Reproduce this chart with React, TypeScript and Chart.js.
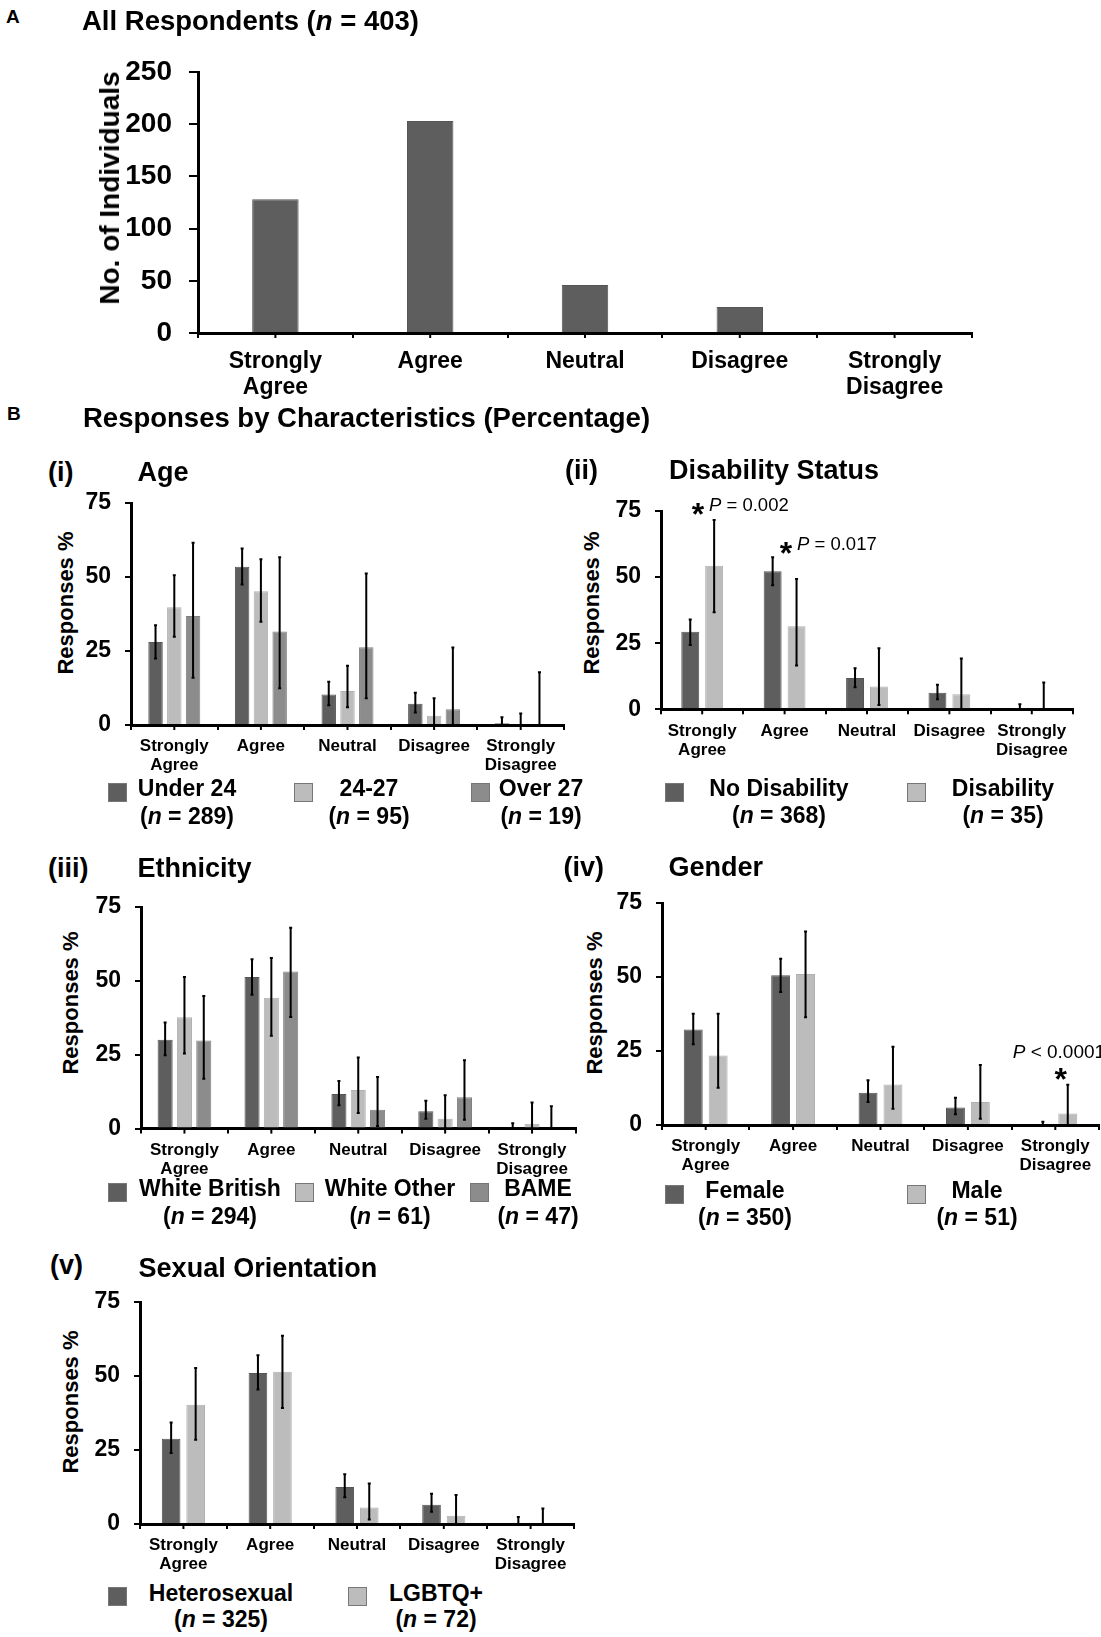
import React, { useEffect, useRef } from 'react';
import { Chart, registerables } from 'chart.js';
Chart.register(...registerables);

const FONT = "'Liberation Sans', Arial, Helvetica, sans-serif";
const DARK = '#5e5e5e';
const LIGHT = '#bcbcbc';
const MID = '#8c8c8c';

// ---------------- data ----------------
const responseLabels: (string | string[])[] = [['Strongly', 'Agree'], 'Agree', 'Neutral', 'Disagree', ['Strongly', 'Disagree']];
const allCounts = [128, 203, 46, 25, 1];
const allTicks = { max: 250, step: 50 };
const pctTicks = { max: 75, step: 25 };

// (i) Age
const ageGroups = ['Under 24', '24-27', 'Over 27'];
const ageN = [289, 95, 19];
const ageUnder24 = [28.0, 53.5, 10.3, 7.2, 0.6];
const ageUnder24Lo = [22.5, 47.5, 6.7, 4.2, 0];
const ageUnder24Hi = [33.7, 59.6, 14.6, 10.9, 2.6];
const age2427 = [39.8, 45.2, 11.5, 3.1, 0];
const age2427Lo = [29.8, 34.9, 6.0, 0, 0];
const age2427Hi = [50.6, 56.0, 20.0, 9.0, 3.9];
const ageOver27 = [36.8, 31.6, 26.3, 5.3, 0];
const ageOver27Lo = [16.0, 12.4, 9.0, 0, 0];
const ageOver27Hi = [61.6, 56.7, 51.2, 26.2, 17.8];

// (ii) Disability
const disGroups = ['No Disability', 'Disability'];
const disN = [368, 35];
const noDisability = [29.3, 52.2, 11.8, 6.3, 0.3];
const noDisabilityLo = [24.3, 46.9, 8.3, 3.8, 0];
const noDisabilityHi = [34.0, 57.5, 15.5, 9.3, 1.9];
const disability = [54.3, 31.4, 8.6, 5.7, 0];
const disabilityLo = [36.7, 16.6, 1.6, 0, 0];
const disabilityHi = [71.6, 49.3, 23.1, 19.2, 10.1];

// (iii) Ethnicity
const ethGroups = ['White British', 'White Other', 'BAME'];
const ethN = [294, 61, 47];
const whiteBritish = [30.1, 51.3, 11.7, 5.9, 0.3];
const whiteBritishLo = [24.8, 45.3, 7.9, 3.3, 0];
const whiteBritishHi = [35.9, 57.3, 16.1, 9.4, 1.8];
const whiteOther = [37.7, 44.3, 13.1, 3.3, 1.6];
const whiteOtherLo = [25.4, 31.4, 5.3, 0, 0];
const whiteOtherHi = [51.3, 57.7, 24.1, 11.3, 8.8];
const bame = [29.8, 53.2, 6.4, 10.6, 0];
const bameLo = [16.9, 37.8, 0.9, 3.0, 0];
const bameHi = [44.9, 68.0, 17.5, 23.1, 7.6];

// (iv) Gender
const genderGroups = ['Female', 'Male'];
const genderN = [350, 51];
const female = [32.3, 50.6, 10.9, 5.9, 0.3];
const femaleLo = [27.3, 44.9, 7.8, 3.6, 0];
const femaleHi = [37.6, 56.2, 15.1, 9.2, 1.1];
const male = [23.5, 51.0, 13.7, 7.8, 3.9];
const maleLo = [12.6, 36.4, 5.5, 2.1, 0];
const maleHi = [37.6, 65.4, 26.4, 20.3, 13.6];

// (v) Sexual orientation
const soGroups = ['Heterosexual', 'LGBTQ+'];
const soN = [325, 72];
const hetero = [28.8, 51.0, 12.5, 6.5, 0.3];
const heteroLo = [24.0, 45.4, 9.0, 4.1, 0];
const heteroHi = [34.3, 57.0, 16.8, 10.2, 2.4];
const lgbtq = [40.3, 51.4, 5.6, 2.8, 0];
const lgbtqLo = [28.5, 39.2, 1.5, 0, 0];
const lgbtqHi = [52.7, 63.6, 13.7, 9.8, 5.2];

// ---------------- plugins ----------------
const errorBarPlugin = {
  id: 'errorBars',
  afterDatasetsDraw(chart: any) {
    const ctx = chart.ctx;
    const y = chart.scales.y;
    chart.data.datasets.forEach((ds: any, i: number) => {
      if (!ds.errLo) return;
      const meta = chart.getDatasetMeta(i);
      meta.data.forEach((bar: any, j: number) => {
        const x = bar.x;
        const yl = y.getPixelForValue(ds.errLo[j]);
        const yh = y.getPixelForValue(ds.errHi[j]);
        ctx.save();
        ctx.strokeStyle = '#000';
        ctx.lineWidth = 2;
        ctx.beginPath();
        ctx.moveTo(x, yl);
        ctx.lineTo(x, yh);
        ctx.moveTo(x - 1.5, yh);
        ctx.lineTo(x + 1.5, yh);
        ctx.moveTo(x - 1.5, yl);
        ctx.lineTo(x + 1.5, yl);
        ctx.stroke();
        ctx.restore();
      });
    });
  },
};

const centerTicksPlugin = {
  id: 'centerTicks',
  afterDraw(chart: any, _args: any, opts: any) {
    const xs = chart.scales.x;
    const ctx = chart.ctx;
    const len = (opts && opts.length) || 5;
    ctx.save();
    ctx.strokeStyle = '#000';
    ctx.lineWidth = 2;
    for (let i = 0; i < chart.data.labels.length; i++) {
      const px = xs.getPixelForValue(i);
      ctx.beginPath();
      ctx.moveTo(px, xs.top);
      ctx.lineTo(px, xs.top + len);
      ctx.stroke();
    }
    ctx.restore();
  },
};

// ---------------- chart panel ----------------
type Series = { data: number[]; lo?: number[]; hi?: number[]; color: string; border: string };
type PanelCfg = {
  L: number; T: number; R: number; B: number;
  yW: number; xH: number; padTop: number; padRight: number;
  yMax: number; yStep: number;
  yFont: number; xFont: number; xLine: number;
  yTickLen: number; yTickPad: number; xTickLen: number; xTickPad: number;
  catPct: number; barPct: number; axisW: number;
  labels: (string | string[])[];
  series: Series[];
};

function BarPanel({ cfg }: { cfg: PanelCfg }) {
  const ref = useRef<HTMLCanvasElement>(null);
  const cl = cfg.L - cfg.yW;
  const ct = cfg.T - cfg.padTop;
  const w = Math.ceil(cfg.R + cfg.padRight - cl);
  const h = Math.ceil(cfg.B + cfg.xH - ct);
  const xAxisH = h - (cfg.B - ct);
  const padR = w - (cfg.R - cl);

  useEffect(() => {
    if (!ref.current) return;
    const chart = new Chart(ref.current, {
      type: 'bar',
      data: {
        labels: cfg.labels as any,
        datasets: cfg.series.map((s) => ({
          data: s.data,
          backgroundColor: s.color,
          borderColor: s.border,
          borderWidth: 1,
          barPercentage: cfg.barPct,
          categoryPercentage: cfg.catPct,
          errLo: s.lo,
          errHi: s.hi,
        })) as any,
      },
      options: {
        responsive: false,
        animation: false,
        events: [],
        layout: { padding: { left: 0, top: cfg.padTop, right: padR, bottom: 0 } },
        plugins: {
          legend: { display: false },
          tooltip: { enabled: false },
          centerTicks: { length: cfg.xTickLen },
        } as any,
        scales: {
          x: {
            type: 'category',
            offset: true,
            z: 1,
            border: { display: true, color: '#000', width: cfg.axisW },
            grid: {
              display: true,
              offset: true,
              drawOnChartArea: false,
              drawTicks: true,
              tickLength: cfg.xTickLen,
              color: '#000',
              lineWidth: 2,
            },
            ticks: {
              color: '#000',
              font: { family: FONT, size: cfg.xFont, weight: 'bold', lineHeight: cfg.xLine },
              padding: cfg.xTickPad,
              maxRotation: 0,
              minRotation: 0,
              autoSkip: false,
            },
            afterFit: (s: any) => {
              s.height = xAxisH;
            },
          },
          y: {
            type: 'linear',
            min: 0,
            max: cfg.yMax,
            z: 1,
            border: { display: true, color: '#000', width: cfg.axisW },
            grid: {
              display: true,
              drawOnChartArea: false,
              drawTicks: true,
              tickLength: cfg.yTickLen,
              color: '#000',
              lineWidth: 2,
            },
            ticks: {
              stepSize: cfg.yStep,
              color: '#000',
              font: { family: FONT, size: cfg.yFont, weight: 'bold' },
              padding: cfg.yTickPad,
            },
            afterFit: (s: any) => {
              s.width = cfg.yW;
            },
          },
        } as any,
      },
      plugins: [errorBarPlugin, centerTicksPlugin],
    });
    return () => chart.destroy();
  }, []);

  return (
    <canvas
      ref={ref}
      width={w}
      height={h}
      style={{ position: 'absolute', left: cl, top: ct, width: w, height: h }}
    />
  );
}

// ---------------- text helpers ----------------
function Txt({ x, cy, fs, bold = true, center = false, children }: any) {
  return (
    <div
      style={{
        position: 'absolute',
        left: x,
        top: cy - fs * 0.5,
        fontSize: fs,
        lineHeight: 1,
        fontWeight: bold ? 'bold' : 'normal',
        whiteSpace: 'nowrap',
        transform: center ? 'translateX(-50%)' : undefined,
      }}
    >
      {children}
    </div>
  );
}

function VTxt({ cx, cy, fs, children }: any) {
  return (
    <div
      style={{
        position: 'absolute',
        left: cx,
        top: cy,
        fontSize: fs,
        lineHeight: 1,
        fontWeight: 'bold',
        whiteSpace: 'nowrap',
        transform: 'translate(-50%, -50%) rotate(-90deg)',
      }}
    >
      {children}
    </div>
  );
}

function Star({ cx, cy }: { cx: number; cy: number }) {
  const fs = 32;
  return (
    <div
      style={{
        position: 'absolute',
        left: cx,
        top: cy - fs * 0.27,
        fontSize: fs,
        lineHeight: 1,
        fontWeight: 'bold',
        transform: 'translateX(-50%)',
      }}
    >
      *
    </div>
  );
}

type LegendItem = { color: string; sqX: number; cx: number; name: string; n: number };
function Legend({ items, sqY, y1, y2 }: { items: LegendItem[]; sqY: number; y1: number; y2: number }) {
  return (
    <>
      {items.map((it, i) => (
        <React.Fragment key={i}>
          <div
            style={{
              position: 'absolute',
              left: it.sqX,
              top: sqY,
              width: 19,
              height: 19,
              boxSizing: 'border-box',
              background: it.color,
              border: '1px solid #777',
            }}
          />
          <Txt x={it.cx} cy={y1} fs={23} center>
            {it.name}
          </Txt>
          <Txt x={it.cx} cy={y2} fs={23} center>
            (<i>n</i> = {it.n})
          </Txt>
        </React.Fragment>
      ))}
    </>
  );
}

// ---------------- panel configs ----------------
const baseB = {
  yW: 50, xH: 55, padTop: 34, padRight: 2,
  yMax: pctTicks.max, yStep: pctTicks.step,
  yFont: 23, xFont: 17, xLine: 1.12,
  yTickLen: 6, yTickPad: 14, xTickLen: 5, xTickPad: 7,
  axisW: 3,
  labels: responseLabels,
};

const panelA: PanelCfg = {
  L: 198, T: 72.3, R: 972, B: 333.3,
  yW: 98, xH: 80, padTop: 40, padRight: 10,
  yMax: allTicks.max, yStep: allTicks.step,
  yFont: 28, xFont: 23, xLine: 1.15,
  yTickLen: 9, yTickPad: 17, xTickLen: 5, xTickPad: 10,
  catPct: 1, barPct: 0.3, axisW: 3,
  labels: responseLabels,
  series: [{ data: allCounts, color: DARK, border: '#555' }],
};

const panelI: PanelCfg = {
  ...baseB,
  L: 130.5, T: 503, R: 563.5, B: 725,
  catPct: 0.65, barPct: 0.77,
  series: [
    { data: ageUnder24, lo: ageUnder24Lo, hi: ageUnder24Hi, color: DARK, border: '#555' },
    { data: age2427, lo: age2427Lo, hi: age2427Hi, color: LIGHT, border: '#b0b0b0' },
    { data: ageOver27, lo: ageOver27Lo, hi: ageOver27Hi, color: MID, border: '#808080' },
  ],
};

const panelII: PanelCfg = {
  ...baseB,
  L: 661, T: 511, R: 1073, B: 709.3,
  catPct: 0.58, barPct: 0.75,
  series: [
    { data: noDisability, lo: noDisabilityLo, hi: noDisabilityHi, color: DARK, border: '#555' },
    { data: disability, lo: disabilityLo, hi: disabilityHi, color: LIGHT, border: '#b0b0b0' },
  ],
};

const panelIII: PanelCfg = {
  ...baseB,
  L: 140.5, T: 906.7, R: 575, B: 1128.3,
  catPct: 0.667, barPct: 0.78,
  series: [
    { data: whiteBritish, lo: whiteBritishLo, hi: whiteBritishHi, color: DARK, border: '#555' },
    { data: whiteOther, lo: whiteOtherLo, hi: whiteOtherHi, color: LIGHT, border: '#b0b0b0' },
    { data: bame, lo: bameLo, hi: bameHi, color: MID, border: '#808080' },
  ],
};

const panelIV: PanelCfg = {
  ...baseB,
  L: 662, T: 902.7, R: 1099, B: 1124.7,
  catPct: 0.57, barPct: 0.76,
  series: [
    { data: female, lo: femaleLo, hi: femaleHi, color: DARK, border: '#555' },
    { data: male, lo: maleLo, hi: maleHi, color: LIGHT, border: '#b0b0b0' },
  ],
};

const panelV: PanelCfg = {
  ...baseB,
  L: 140, T: 1302.3, R: 574, B: 1524.3,
  catPct: 0.565, barPct: 0.76,
  series: [
    { data: hetero, lo: heteroLo, hi: heteroHi, color: DARK, border: '#555' },
    { data: lgbtq, lo: lgbtqLo, hi: lgbtqHi, color: LIGHT, border: '#b0b0b0' },
  ],
};

export default function App() {
  useEffect(() => {
    document.body.style.margin = '0';
    document.body.style.background = '#fff';
  }, []);

  const colors3 = [DARK, LIGHT, MID];
  const colors2 = [DARK, LIGHT];

  return (
    <div
      style={{
        position: 'relative',
        width: 1101,
        height: 1637,
        overflow: 'hidden',
        background: '#fff',
        color: '#000',
        fontFamily: FONT,
      }}
    >
      <BarPanel cfg={panelA} />
      <BarPanel cfg={panelI} />
      <BarPanel cfg={panelII} />
      <BarPanel cfg={panelIII} />
      <BarPanel cfg={panelIV} />
      <BarPanel cfg={panelV} />

      {/* Panel A text */}
      <Txt x={6} cy={16} fs={19}>A</Txt>
      <Txt x={82} cy={21} fs={27.5}>
        All Respondents (<i>n</i> = 403)
      </Txt>
      <VTxt cx={110} cy={187.5} fs={28}>No. of Individuals</VTxt>

      {/* Panel B header */}
      <Txt x={7} cy={413} fs={19}>B</Txt>
      <Txt x={83} cy={418} fs={27.5}>Responses by Characteristics (Percentage)</Txt>

      {/* (i) Age */}
      <Txt x={48} cy={472} fs={27}>(i)</Txt>
      <Txt x={137.5} cy={472} fs={27}>Age</Txt>
      <VTxt cx={66} cy={602.5} fs={22}>Responses %</VTxt>
      <Legend
        sqY={783}
        y1={788}
        y2={816}
        items={ageGroups.map((g, i) => ({ color: colors3[i], sqX: [108, 294, 471][i], cx: [187, 369, 541][i], name: g, n: ageN[i] }))}
      />

      {/* (ii) Disability */}
      <Txt x={565} cy={470} fs={27}>(ii)</Txt>
      <Txt x={669} cy={470} fs={27}>Disability Status</Txt>
      <VTxt cx={592} cy={602.5} fs={22}>Responses %</VTxt>
      <Star cx={698} cy={506.7} />
      <Txt x={709} cy={505.5} fs={18.5} bold={false}>
        <i>P</i> = 0.002
      </Txt>
      <Star cx={786} cy={546} />
      <Txt x={797} cy={544} fs={18.5} bold={false}>
        <i>P</i> = 0.017
      </Txt>
      <Legend
        sqY={783}
        y1={788}
        y2={815}
        items={disGroups.map((g, i) => ({ color: colors2[i], sqX: [665, 907][i], cx: [779, 1003][i], name: g, n: disN[i] }))}
      />

      {/* (iii) Ethnicity */}
      <Txt x={48} cy={868} fs={27}>(iii)</Txt>
      <Txt x={137.5} cy={868} fs={27}>Ethnicity</Txt>
      <VTxt cx={71} cy={1003} fs={22}>Responses %</VTxt>
      <Legend
        sqY={1183}
        y1={1188}
        y2={1216}
        items={ethGroups.map((g, i) => ({ color: colors3[i], sqX: [108, 295, 470][i], cx: [210, 390, 538][i], name: g, n: ethN[i] }))}
      />

      {/* (iv) Gender */}
      <Txt x={563.5} cy={867} fs={27}>(iv)</Txt>
      <Txt x={668.5} cy={867} fs={27}>Gender</Txt>
      <VTxt cx={595} cy={1002.5} fs={22}>Responses %</VTxt>
      <Txt x={1012.7} cy={1051.7} fs={19} bold={false}>
        <i>P</i> &lt; 0.0001
      </Txt>
      <Star cx={1060.7} cy={1071.7} />
      <Legend
        sqY={1185}
        y1={1190}
        y2={1217}
        items={genderGroups.map((g, i) => ({ color: colors2[i], sqX: [665, 907][i], cx: [745, 977][i], name: g, n: genderN[i] }))}
      />

      {/* (v) Sexual orientation */}
      <Txt x={50} cy={1265} fs={27}>(v)</Txt>
      <Txt x={138.6} cy={1268} fs={27}>Sexual Orientation</Txt>
      <VTxt cx={71} cy={1401.7} fs={22}>Responses %</VTxt>
      <Legend
        sqY={1587}
        y1={1593}
        y2={1619}
        items={soGroups.map((g, i) => ({ color: colors2[i], sqX: [108, 347.5][i], cx: [221, 436][i], name: g, n: soN[i] }))}
      />
    </div>
  );
}
